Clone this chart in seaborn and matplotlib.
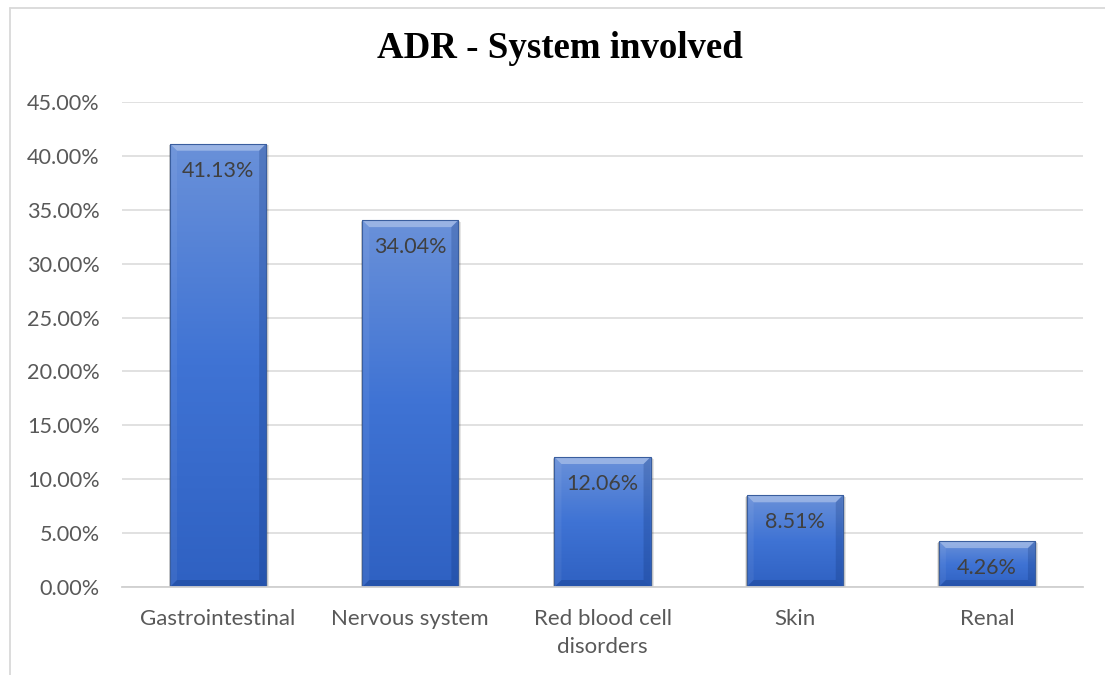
import numpy as np
import pandas as pd
import seaborn as sns
import matplotlib.pyplot as plt
from matplotlib.patches import Polygon, Rectangle
from matplotlib.colors import LinearSegmentedColormap
from matplotlib.lines import Line2D

# Share of adverse drug reactions by organ system (%)
systems = ["Gastrointestinal", "Nervous system", "Red blood cell\ndisorders", "Skin", "Renal"]
share = [41.13, 34.04, 12.06, 8.51, 4.26]
y_ticks = [0, 5, 10, 15, 20, 25, 30, 35, 40, 45]

sns.set_theme(style="white")
plt.rcParams["font.family"] = ["Lato", "DejaVu Sans"]

W, H = 1105, 675
fig = plt.figure(figsize=(W / 100, H / 100), dpi=100)
ax = fig.add_axes([122 / W, 1 - 587 / H, (1083 - 122) / W, (587 - 102) / H])

df = pd.DataFrame({"system": systems, "share": share})
sns.barplot(data=df, x="system", y="share", ax=ax, color="#4472c4",
            width=0.5, saturation=1, zorder=3)

ax.set_ylim(y_ticks[0], y_ticks[-1])
ax.set_xlim(-0.5, len(systems) - 0.5)
ax.set_yticks(y_ticks)
ax.yaxis.set_major_formatter(lambda v, p: f"{v:.2f}%")
ax.set_xlabel("")
ax.set_ylabel("")
ax.yaxis.grid(True, color="#d9d9d9", linewidth=1.1, zorder=0)
ax.set_axisbelow(True)
for s in ["left", "right", "top"]:
    ax.spines[s].set_visible(False)
ax.spines["bottom"].set_color("#d0d0d0")
ax.spines["bottom"].set_linewidth(1.3)
ax.spines["bottom"].set_zorder(6)
ax.tick_params(axis="y", length=0, pad=16, labelsize=15.6, labelcolor="#595959")
ax.tick_params(axis="x", length=0, pad=16, labelsize=16, labelcolor="#595959")
for lbl in ax.get_xticklabels():
    lbl.set_linespacing(1.5)

# Gradient face with bevelled edges on each bar
cmap = LinearSegmentedColormap.from_list("face", ["#2f61c2", "#3f73d4", "#6a91d9"])
grad = np.linspace(0, 1, 256).reshape(-1, 1)
px_x = (ax.get_xlim()[1] - ax.get_xlim()[0]) / (1083 - 122)
px_y = (ax.get_ylim()[1] - ax.get_ylim()[0]) / (587 - 102)
bev = 7
for patch, val in zip(ax.patches, share):
    x0, w, h = patch.get_x(), patch.get_width(), patch.get_height()
    x1 = x0 + w
    # soft drop shadow
    for k, a in [(3, 0.10), (2, 0.12), (1, 0.15)]:
        ax.add_patch(Rectangle((x0 - k * px_x * 0.5, -k * px_y), w + k * px_x * 1.5, h + k * px_y * 0.5,
                               facecolor="#000000", alpha=a, edgecolor="none", zorder=2))
    patch.set_edgecolor("none")
    im = ax.imshow(grad, extent=[x0, x1, 0, h], origin="lower", aspect="auto",
                   cmap=cmap, zorder=4, interpolation="bicubic")
    im.set_clip_path(patch)
    dx, dy = bev * px_x, bev * px_y
    top = [(x0, h), (x1, h), (x1 - dx, h - dy), (x0 + dx, h - dy)]
    bottom = [(x0, 0), (x1, 0), (x1 - dx, dy), (x0 + dx, dy)]
    left = [(x0, 0), (x0, h), (x0 + dx, h - dy), (x0 + dx, dy)]
    right = [(x1, 0), (x1, h), (x1 - dx, h - dy), (x1 - dx, dy)]
    ax.add_patch(Polygon(top, closed=True, facecolor="white", alpha=0.32, edgecolor="none", zorder=5))
    ax.add_patch(Polygon(left, closed=True, facecolor="white", alpha=0.06, edgecolor="none", zorder=5))
    ax.add_patch(Polygon(right, closed=True, facecolor="#0a2a6a", alpha=0.22, edgecolor="none", zorder=5))
    ax.add_patch(Polygon(bottom, closed=True, facecolor="#0a2a6a", alpha=0.25, edgecolor="none", zorder=5))
    ax.add_patch(Rectangle((x0, 0), w, h, facecolor="none", edgecolor="#3a5e9e",
                           linewidth=0.8, zorder=5))
    ax.annotate(f"{val:.2f}%", (x0 + w / 2, h), xytext=(0, -27), textcoords="offset pixels",
                ha="center", va="center", fontsize=15.5, color="#404040", zorder=7)

fig.text(560 / W, 1 - 48 / H, "ADR - System involved", ha="center", va="center",
         fontsize=26.6, fontweight="bold", family=["Liberation Serif", "DejaVu Serif"], color="black")

# Chart area frame
fig.add_artist(Line2D([9.5 / W, 9.5 / W], [0, 1 - 7.5 / H], transform=fig.transFigure,
                      color="#d9d9d9", linewidth=1.3))
fig.add_artist(Line2D([9.5 / W, 1], [1 - 7.5 / H, 1 - 7.5 / H], transform=fig.transFigure,
                      color="#d9d9d9", linewidth=1.3))

fig.savefig("out.png", dpi=100)
